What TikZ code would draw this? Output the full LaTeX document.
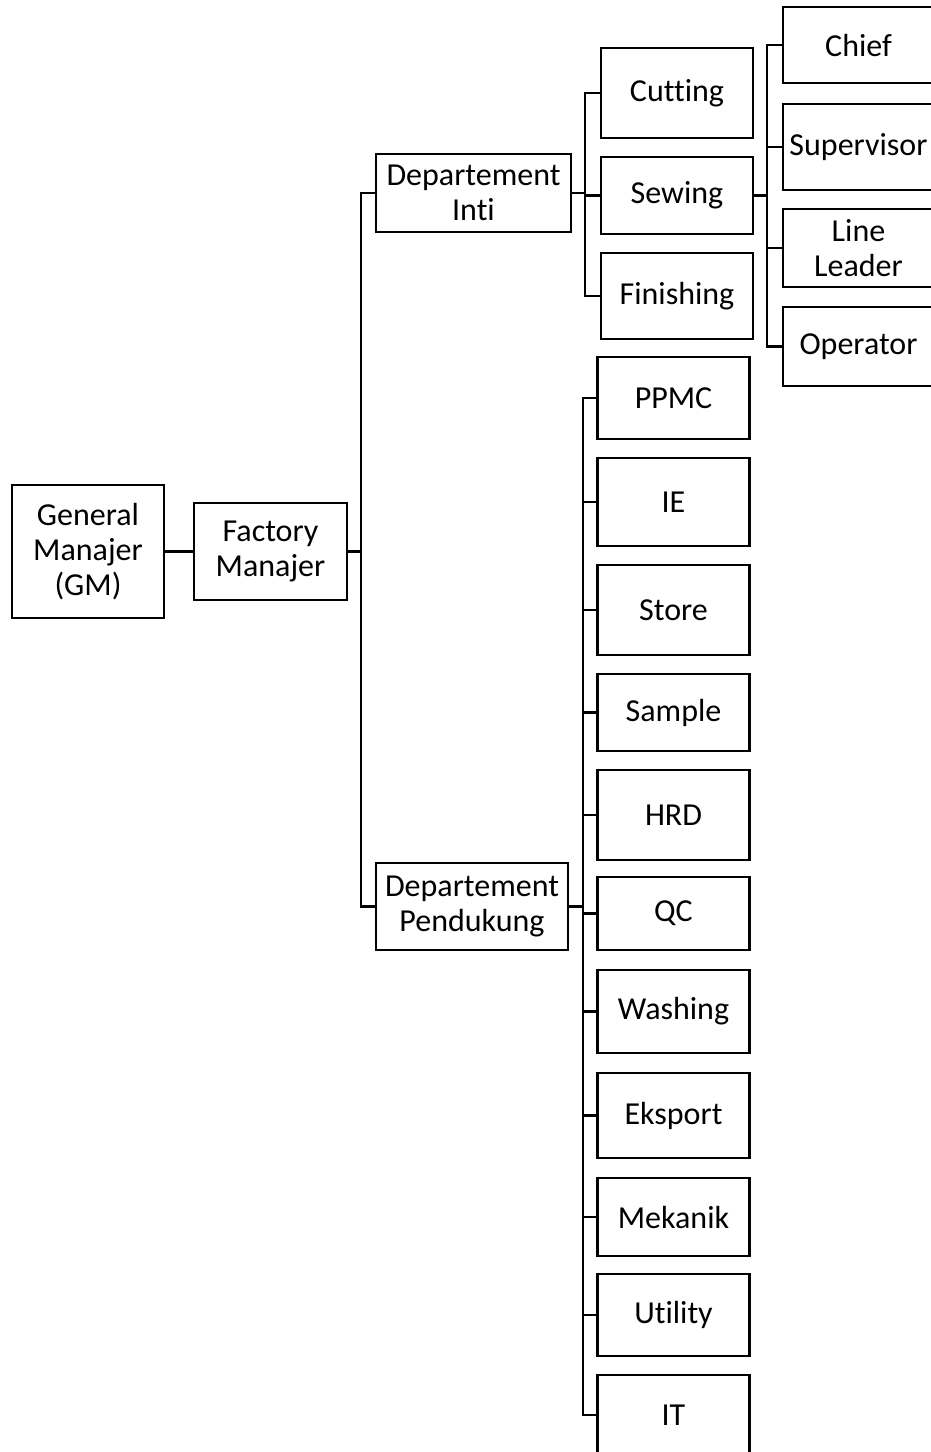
\documentclass[tikz,border=0pt]{standalone}
\usepackage{fontspec}
\setmainfont{Carlito}[Ligatures=NoCommon]
\usepackage{tikz}

\begin{document}
\begin{tikzpicture}[x=1pt,y=-1pt,
  box/.style={draw,line width=2.2pt,inner sep=0pt,align=center,font=\fontsize{32}{35}\selectfont},
  link/.style={line width=2.4pt}]
\useasboundingbox (0,0) rectangle (931,1452);
\node[box,minimum width=152,minimum height=133] (gm) at (88,551.5) {General\\Manajer\\(GM)};
\node[box,minimum width=153,minimum height=97] (fm) at (270.5,551.5) {Factory\\Manajer};
\node[box,minimum width=195,minimum height=78] (inti) at (473.5,193) {Departement\\Inti};
\node[box,minimum width=192,minimum height=87] (pendukung) at (472,906.5) {Departement\\Pendukung};
% departement inti
\node[box,minimum width=152,minimum height=90] (cutting) at (677,93) {Cutting};
\node[box,minimum width=152,minimum height=77] (sewing) at (677,195.5) {Sewing};
\node[box,minimum width=152,minimum height=86] (finishing) at (677,296) {Finishing};
\node[box,minimum width=151,minimum height=76] (chief) at (858.5,45) {Chief};
\node[box,minimum width=151,minimum height=86] (supervisor) at (858.5,147) {Supervisor};
\node[box,minimum width=151,minimum height=78] (leader) at (858.5,248) {Line\\Leader};
\node[box,minimum width=151,minimum height=79] (operator) at (858.5,346.5) {Operator};
% departement pendukung
\node[box,minimum width=152,minimum height=82] (ppmc) at (673.5,398) {PPMC};
\node[box,minimum width=152,minimum height=88] (ie) at (673.5,502) {IE};
\node[box,minimum width=152,minimum height=90] (store) at (673.5,610) {Store};
\node[box,minimum width=152,minimum height=77] (sample) at (673.5,712.5) {Sample};
\node[box,minimum width=152,minimum height=90] (hrd) at (673.5,815) {HRD};
\node[box,minimum width=152,minimum height=73] (qc) at (673.5,913.5) {QC};
\node[box,minimum width=152,minimum height=83] (washing) at (673.5,1011.5) {Washing};
\node[box,minimum width=152,minimum height=85] (eksport) at (673.5,1115.5) {Eksport};
\node[box,minimum width=152,minimum height=78] (mekanik) at (673.5,1217) {Mekanik};
\node[box,minimum width=152,minimum height=82] (utility) at (673.5,1315) {Utility};
\node[box,minimum width=152,minimum height=80] (it) at (673.5,1415) {IT};
% lines
\coordinate (trunk) at (361,551.5);
\coordinate (intibar) at (585,193);
\coordinate (sewbar) at (767,195.5);
\coordinate (dukbar) at (583,906.5);
\draw[link] (gm.east)--(fm.west);
\draw[link] (fm.east)--(trunk);
\draw[link] (inti.west) -| (trunk) |- (pendukung.west);
\draw[link] (inti.east)--(intibar);
\draw[link] (cutting.west) -| (intibar) |- (finishing.west);
\draw[link] (sewing.west)--(sewing.west -| intibar);
\draw[link] (sewing.east)--(sewbar);
\draw[link] (chief.west) -| (sewbar) |- (operator.west);
\draw[link] (supervisor.west)--(supervisor.west -| sewbar);
\draw[link] (leader.west)--(leader.west -| sewbar);
\draw[link] (pendukung.east)--(dukbar);
\draw[link] (ppmc.west) -| (dukbar) |- (it.west);
\draw[link] (ie.west)--(ie.west -| dukbar);
\draw[link] (store.west)--(store.west -| dukbar);
\draw[link] (sample.west)--(sample.west -| dukbar);
\draw[link] (hrd.west)--(hrd.west -| dukbar);
\draw[link] (qc.west)--(qc.west -| dukbar);
\draw[link] (washing.west)--(washing.west -| dukbar);
\draw[link] (eksport.west)--(eksport.west -| dukbar);
\draw[link] (mekanik.west)--(mekanik.west -| dukbar);
\draw[link] (utility.west)--(utility.west -| dukbar);
\end{tikzpicture}
\end{document}
